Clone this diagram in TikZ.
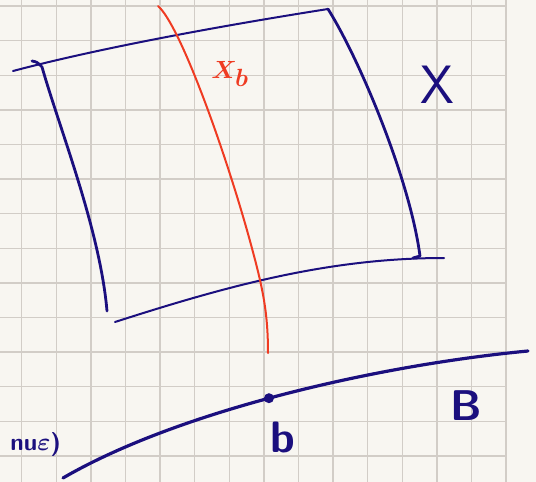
\documentclass[tikz,border=0pt]{standalone}
\usepackage{amsmath,amssymb}
\usepackage{tikz}
\usetikzlibrary{calc,positioning}
\definecolor{paper}{HTML}{F8F6F1}
\definecolor{gridgray}{HTML}{D2CDC7}
\definecolor{ink}{HTML}{1B0F7E}
\definecolor{redink}{HTML}{EF3B22}
\tikzset{
  gridline/.style = {gridgray, line width=1.4pt},
  pen/.style      = {ink, line width=2.8pt, line cap=round, line join=round},
  thinpen/.style  = {ink, line width=2pt, line cap=round, line join=round},
  redpen/.style   = {redink, line width=2pt, line cap=round, line join=round},
  lbl/.style      = {inner sep=0pt, text=ink, font=\sffamily\bfseries},
  dot/.style      = {circle, fill=ink, inner sep=0pt, minimum size=10pt},
}

\begin{document}
\begin{tikzpicture}[x=1pt,y=-1pt]
  \useasboundingbox (0,0) rectangle (536,482);
  \clip (0,0) rectangle (536,482);
  \fill[paper] (0,0) rectangle (536,482);
  % squared paper
  \foreach \k in {0,...,14}
    \draw[gridline] ({21.7+34.6*\k},0) -- ({21.7+34.6*\k},482);
  \foreach \k in {0,...,13}
    \draw[gridline] (0,{6+34.6*\k}) -- (505,{6+34.6*\k});

  % the total space X
  \coordinate (TL) at (13,71);
  \coordinate (TR) at (328,9);
  \coordinate (BR) at (420,256);
  \coordinate (LT) at (42,67);
  \coordinate (LB) at (107,311);
  \coordinate (BL) at (115,322);
  \coordinate (BE) at (444,258);
  \draw[thinpen] (TL) .. controls (100,48) and (220,26) .. (TR);
  \draw[pen] (TR) .. controls (360,60) and (410,180) .. (BR) -- (413,258);
  \draw[pen] (32,61) .. controls (37,62) .. (LT)
    .. controls (60,130) and (100,230) .. (LB);
  \draw[thinpen] (BL) .. controls (230,285) and (330,258) .. (BE);
  \node[lbl, font=\sffamily\fontsize{54}{56}\selectfont] (lX) at (437,85) {X};

  % the fibre X_b
  \draw[redpen] (158,6) .. controls (180,25) and (225,150) .. (250,241)
    .. controls (262,285) and (268,310) .. (268,353);
  \node[inner sep=0pt, text=redink, font=\fontsize{38}{40}\selectfont]
    (lXb) at (230,74) {$\boldsymbol{X_b}$};

  % the base B
  \draw[pen, line width=3.2pt] (63,478) .. controls (180,410) and (380,365) .. (528,351)
    node[dot, pos=0.47] (b) {};
  \node[lbl, font=\sffamily\bfseries\fontsize{44}{46}\selectfont] (lb)
    at (283,437) {b};
  \node[lbl, font=\sffamily\bfseries\fontsize{43}{45}\selectfont] (lB)
    at (466,406) {B};
  \node[lbl, anchor=east, font=\sffamily\bfseries\fontsize{24}{26}\selectfont]
    (lcut) at (61,444) {nu$\boldsymbol{\varepsilon}$)};
\end{tikzpicture}
\end{document}
